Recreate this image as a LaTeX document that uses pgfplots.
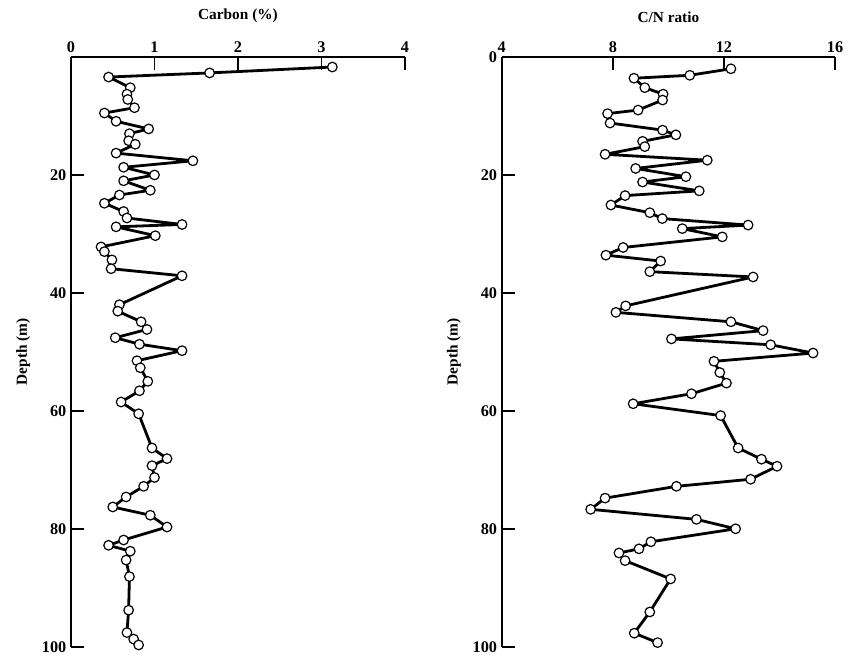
\documentclass[border=0pt]{standalone}
\usepackage{fontspec}
\setmainfont{Liberation Serif}
\usepackage{pgfplots}
\pgfplotsset{compat=1.18}
\begin{document}
\begin{tikzpicture}
\useasboundingbox (0,0) rectangle (636pt,494.25pt);
\pgfplotsset{
 myax/.style={
  scale only axis,
  height=442.3pt,
  anchor=south west,
  y dir=reverse,
  ymin=0, ymax=100,
  ytick={0,20,40,60,80,100},
  axis x line=top,
  axis y line=left,
  axis line style={-, line width=1.4pt},
  tick align=inside,
  major tick length=9.75pt,
  every tick/.style={line width=1.4pt, black},
  tick label style={font=\fontsize{12.2}{13}\selectfont\bfseries},
  label style={font=\fontsize{11.5}{13}\selectfont\bfseries},
  xlabel shift=7pt,
  ylabel shift=2pt,
  /pgf/number format/assume math mode=true,
  ylabel={Depth (m)},
  clip=false,
 },
 myplot/.style={black, line width=2.1pt, line join=round, mark=*, mark size=3.6pt,
   mark options={fill=white, draw=black, line width=0.9pt, solid}},
}
\begin{axis}[myax, at={(53.25pt,9.2pt)}, width=250.5pt,
  xmin=0, xmax=4, xtick={0,1,2,3,4},
  yticklabels={,20,40,60,80,100},
  xlabel={Carbon (\%)}]
\addplot[myplot] table[x=c, y=d] {
d c
1.7 3.13
2.7 1.66
3.4 0.45
5.2 0.71
6.3 0.67
7.2 0.68
8.6 0.76
9.5 0.40
10.9 0.54
12.2 0.93
13.0 0.70
14.2 0.69
14.8 0.77
16.3 0.54
17.6 1.46
18.7 0.63
20.0 1.00
21.0 0.63
22.6 0.95
23.4 0.58
24.8 0.40
26.2 0.63
27.3 0.67
28.4 1.33
28.8 0.54
30.3 1.01
32.2 0.36
33.0 0.40
34.4 0.49
35.9 0.48
37.1 1.33
42.0 0.58
43.1 0.56
44.9 0.84
46.2 0.91
47.6 0.53
48.7 0.82
49.8 1.33
51.5 0.79
52.7 0.83
55.0 0.92
56.6 0.82
58.5 0.60
60.5 0.81
66.3 0.97
68.1 1.15
69.3 0.97
71.3 1.00
72.8 0.87
74.6 0.66
76.3 0.50
77.7 0.95
79.7 1.15
81.9 0.63
82.8 0.45
83.8 0.71
85.3 0.66
88.1 0.70
93.8 0.69
97.6 0.67
98.7 0.75
99.7 0.81
};
\end{axis}
\begin{axis}[myax, at={(376.3pt,9.2pt)}, width=250pt,
  xmin=4, xmax=16, xtick={4,8,12,16},
  xlabel={C/N ratio}]
\addplot[myplot] table[x=r, y=d] {
d r
2.0 12.25
3.1 10.77
3.6 8.76
5.2 9.15
6.3 9.81
7.3 9.79
9.0 8.91
9.6 7.81
11.2 7.90
12.4 9.79
13.2 10.27
14.3 9.07
15.2 9.15
16.5 7.72
17.5 11.40
18.9 8.82
20.3 10.63
21.2 9.07
22.7 11.11
23.5 8.44
25.1 7.93
26.4 9.33
27.4 9.78
28.5 12.87
29.1 10.50
30.5 11.94
32.3 8.37
33.6 7.75
34.6 9.72
36.4 9.33
37.3 13.05
42.2 8.46
43.3 8.11
44.9 12.25
46.4 13.41
47.8 10.11
48.8 13.68
50.2 15.21
51.6 11.64
53.5 11.85
55.3 12.09
57.1 10.83
58.8 8.73
60.8 11.88
66.3 12.51
68.2 13.35
69.4 13.91
71.6 12.96
72.8 10.29
74.8 7.72
76.7 7.20
78.4 11.01
80.0 12.42
82.2 9.37
83.4 8.94
84.1 8.22
85.4 8.44
88.5 10.08
94.1 9.33
97.7 8.77
99.3 9.61
};
\end{axis}
\end{tikzpicture}
\end{document}
